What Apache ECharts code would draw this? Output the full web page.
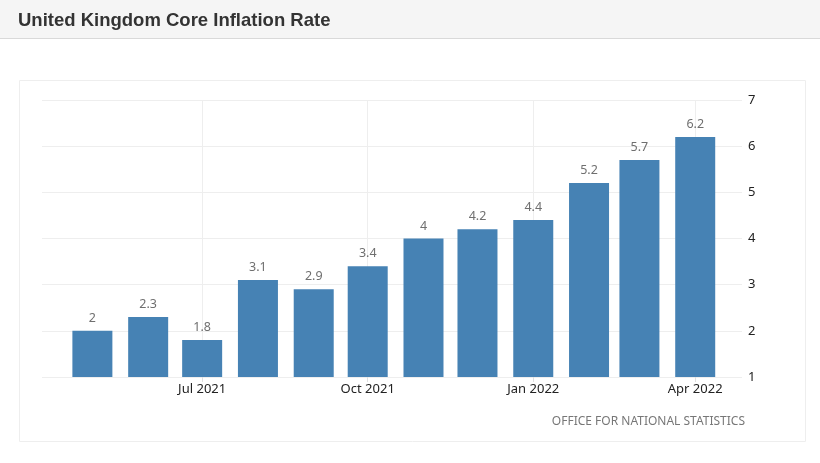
<!DOCTYPE html>
<html>
<head>
<meta charset="utf-8">
<script src="https://cdn.jsdelivr.net/npm/echarts@6/dist/echarts.min.js"></script>
<style>
html,body{margin:0;padding:0;background:#fff;}
#c{width:820px;height:463px;}
</style>
</head>
<body>
<div id="c"></div>
<script>
var months = ['2021-05-01','2021-06-01','2021-07-01','2021-08-01','2021-09-01','2021-10-01','2021-11-01','2021-12-01','2022-01-01','2022-02-01','2022-03-01','2022-04-01'];
var values = [2, 2.3, 1.8, 3.1, 2.9, 3.4, 4, 4.2, 4.4, 5.2, 5.7, 6.2];
var tickDates = ['2021-07-01','2021-10-01','2022-01-01','2022-04-01'];
var tickLabels = ['Jul 2021','Oct 2021','Jan 2022','Apr 2022'];
var yTicks = [1, 2, 3, 4, 5, 6, 7];

function ts(s){ var p = s.split('-'); return Date.UTC(+p[0], +p[1]-1, +p[2]); }
var tickTs = tickDates.map(ts);

var chart = echarts.init(document.getElementById('c'));
chart.setOption({
  animation: false,
  backgroundColor: '#fff',
  title: {
    text: 'United Kingdom Core Inflation Rate',
    left: 13, top: 6,
    textStyle: { fontFamily: 'Liberation Sans', fontWeight: 'bold', fontSize: 18.5, color: '#333' }
  },
  graphic: [
    { type: 'rect', z: -10, shape: { x: 0, y: 0, width: 820, height: 38 }, style: { fill: '#f5f5f5' } },
    { type: 'line', z: -9, shape: { x1: 0, y1: 38.5, x2: 820, y2: 38.5 }, style: { stroke: '#d9d9d9', lineWidth: 1 } },
    { type: 'rect', z: -9, shape: { x: 19.5, y: 80.5, width: 786, height: 361 }, style: { fill: 'none', stroke: '#eeeeee', lineWidth: 1 } },
    { type: 'text', x: 745, y: 422, style: { text: 'OFFICE FOR NATIONAL STATISTICS', align: 'right', verticalAlign: 'middle', fill: '#777', fontSize: 12, fontFamily: 'Noto Sans' } }
  ],
  grid: { left: 42, right: 78, top: 100, bottom: 86 },
  xAxis: {
    type: 'value',
    min: ts('2021-04-03'),
    max: ts('2022-04-27'),
    axisLine: { show: false },
    axisTick: { show: true, length: 5, lineStyle: { color: '#e0e0e0' }, customValues: tickTs },
    axisLabel: {
      customValues: tickTs,
      color: '#222', fontSize: 13, fontFamily: 'Noto Sans', margin: 6,
      formatter: function (v) { var i = tickTs.indexOf(v); return i >= 0 ? tickLabels[i] : ''; }
    },
    splitLine: { show: true, lineStyle: { color: '#eeeeee' } }
  },
  yAxis: {
    type: 'value', position: 'right',
    min: yTicks[0], max: yTicks[yTicks.length - 1], interval: 1,
    axisLine: { show: false }, axisTick: { show: false },
    axisLabel: { color: '#222', fontSize: 13, fontFamily: 'Noto Sans', margin: 6 },
    splitLine: { lineStyle: { color: '#eeeeee' } }
  },
  series: [{
    type: 'bar',
    barWidth: 40,
    data: months.map(function (m, i) { return [ts(m), values[i]]; }),
    itemStyle: { color: '#4682b4' },
    label: { show: true, position: 'top', distance: 6, color: '#6f6f6f', fontSize: 12.5, fontFamily: 'Noto Sans' }
  }]
});
</script>
</body>
</html>
